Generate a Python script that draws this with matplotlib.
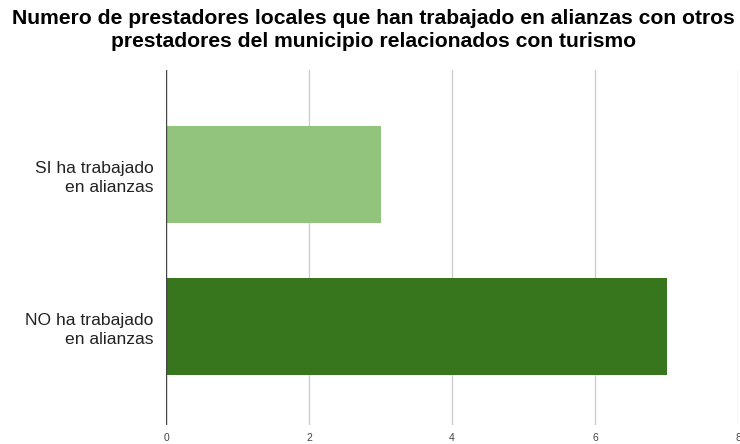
import matplotlib.pyplot as plt

# categories and counts, top to bottom
categorias = ["SI ha trabajado\nen alianzas", "NO ha trabajado\nen alianzas"]
valores = [3, 7]
colores = ["#93c47d", "#38761d"]
ticks_x = [0, 2, 4, 6, 8]

plt.rcParams['font.family'] = ['Liberation Sans', 'DejaVu Sans']

fig = plt.figure(figsize=(7.4, 4.44), dpi=100)
ax = fig.add_axes([166 / 740, 1 - 425 / 444, 572 / 740, 355 / 444])

pos = list(range(len(categorias)))
ax.barh(pos, valores, height=0.64, color=colores, zorder=3)

ax.set_xlim(0, 8)
ax.set_ylim(1.653, -0.69)
ax.set_xticks(ticks_x)
ax.set_xticklabels([str(t) for t in ticks_x], fontsize=7.5, color="#444444")
ax.set_yticks(pos)
ax.set_yticklabels(categorias, fontsize=12.6, color="#222222", linespacing=1.35)
ax.tick_params(axis='both', length=0)
ax.tick_params(axis='y', pad=9)
ax.tick_params(axis='x', pad=6)

for t in ticks_x[1:]:
    ax.axvline(t, color="#cccccc", lw=1, zorder=1)
ax.axvline(0, color="#444444", lw=1, zorder=4)

for s in ax.spines.values():
    s.set_visible(False)

fig.suptitle("Numero de prestadores locales que han trabajado en alianzas con otros\nprestadores del municipio relacionados con turismo",
             x=0.505, y=0.98, fontsize=15.2, fontweight='bold', color="#000000", linespacing=1.28)

fig.savefig("out.png", dpi=100)
